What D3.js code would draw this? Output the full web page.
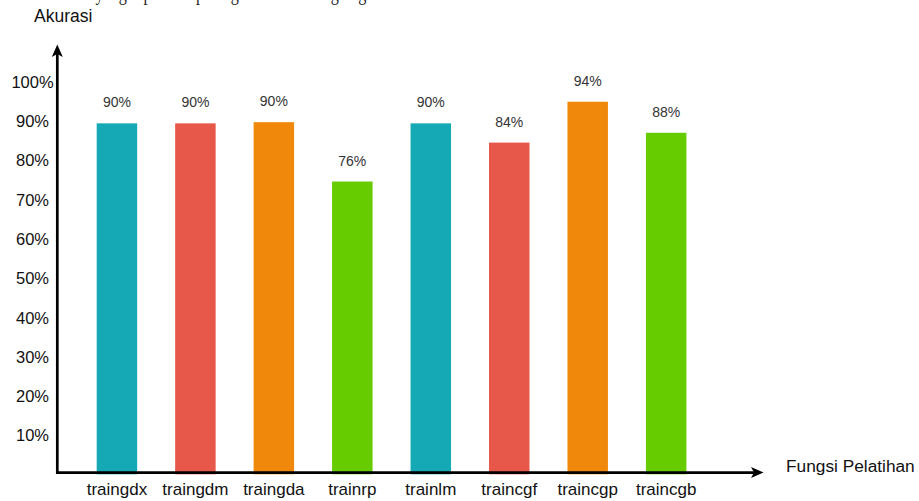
<!DOCTYPE html>
<html>
<head>
<meta charset="utf-8">
<script src="https://cdn.jsdelivr.net/npm/d3@7"></script>
<style>
  html, body { margin: 0; padding: 0; background: #fff; }
  svg { display: block; }
</style>
</head>
<body>
<script>
// ---- data ----
const categories = ["traingdx", "traingdm", "traingda", "trainrp", "trainlm", "traincgf", "traincgp", "traincgb"];
const barValues  = [89.3, 89.3, 89.6, 74.5, 89.3, 84.4, 94.8, 86.9];
const valueLabels = ["90%", "90%", "90%", "76%", "90%", "84%", "94%", "88%"];
const barColors  = ["#15a9b6", "#e8584a", "#f0890b", "#66cc00", "#15a9b6", "#e8584a", "#f0890b", "#66cc00"];
const yTicks     = [10, 20, 30, 40, 50, 60, 70, 80, 90, 100];
const yTitle = "Akurasi";
const xTitle = "Fungsi Pelatihan";
const topCaption = "hasil akurasi yang diperoleh pada gambar 4.6 dengan grafik berikut ini.";

const W = 919, H = 501;
const svg = d3.select("body").append("svg").attr("width", W).attr("height", H);
const font = "'Liberation Sans', Arial, sans-serif";

const x = d3.scaleBand().domain(categories).range([77.7, 705.4]).paddingInner(0.484).paddingOuter(0.242);
const y = d3.scaleLinear().domain([0, 100]).range([474.3, 81.3]);

// clipped caption line at the very top (cut off in the reference too)
svg.append("text")
  .attr("x", 10).attr("y", -0.5)
  .attr("textLength", 462).attr("lengthAdjust", "spacingAndGlyphs")
  .style("font-family", "'Liberation Serif', 'Times New Roman', serif")
  .style("font-size", "21px").attr("fill", "#222")
  .text(topCaption);

// bars
svg.append("g").selectAll("rect").data(categories).join("rect")
  .attr("x", d => x(d))
  .attr("width", x.bandwidth())
  .attr("y", (d, i) => y(barValues[i]))
  .attr("height", (d, i) => y(0) - y(barValues[i]))
  .attr("fill", (d, i) => barColors[i]);

// value labels
svg.append("g").selectAll("text").data(categories).join("text")
  .attr("x", d => x(d) + x.bandwidth() / 2)
  .attr("y", (d, i) => y(barValues[i]) - 16)
  .attr("text-anchor", "middle")
  .style("font-family", font).style("font-size", "14px")
  .attr("fill", "#333")
  .text((d, i) => valueLabels[i]);

// y axis tick labels
const axisX = 57.3, axisY = 472.6;
const gy = svg.append("g").attr("transform", `translate(${axisX},0)`)
  .call(d3.axisLeft(y).tickValues(yTicks).tickFormat(d => d + "%").tickSize(0));
gy.select(".domain").remove();
gy.selectAll("text")
  .attr("x", -24.8).attr("dy", "0.36em")
  .attr("text-anchor", "middle")
  .style("font-family", font).style("font-size", "16.5px")
  .attr("fill", "#111");

// x axis category labels
const gx = svg.append("g").attr("transform", `translate(0,${axisY})`)
  .call(d3.axisBottom(x).tickSize(0));
gx.select(".domain").remove();
gx.selectAll("text")
  .attr("y", 22.5).attr("dy", 0)
  .style("font-family", font).style("font-size", "17px")
  .attr("fill", "#111");

// axis lines with arrows
svg.append("line").attr("x1", axisX).attr("y1", axisY + 1.3).attr("x2", axisX).attr("y2", 52)
  .attr("stroke", "#000").attr("stroke-width", 2.7);
svg.append("path").attr("d", `M${axisX},44.5 L${axisX - 5.5},57 L${axisX},54 L${axisX + 5.5},57 Z`).attr("fill", "#000");
svg.append("line").attr("x1", axisX - 1.3).attr("y1", axisY).attr("x2", 756).attr("y2", axisY)
  .attr("stroke", "#000").attr("stroke-width", 2.7);
svg.append("path").attr("d", `M763.5,${axisY} L751,${axisY - 5.5} L754,${axisY} L751,${axisY + 5.5} Z`).attr("fill", "#000");

// axis titles
svg.append("text").attr("x", 34).attr("y", 21.5)
  .style("font-family", font).style("font-size", "17.5px").attr("fill", "#111")
  .text(yTitle);
svg.append("text").attr("x", 786).attr("y", 471.7)
  .style("font-family", font).style("font-size", "17.3px").attr("fill", "#111")
  .text(xTitle);
</script>
</body>
</html>
